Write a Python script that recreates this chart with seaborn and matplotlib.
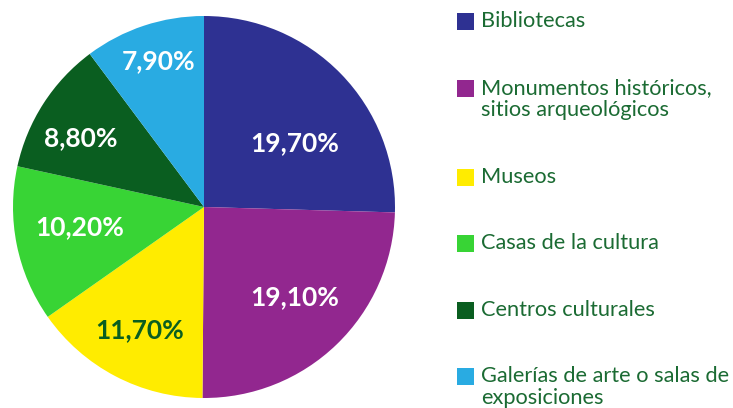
import numpy as np
import matplotlib
matplotlib.use("Agg")
import matplotlib.pyplot as plt
import seaborn as sns
from matplotlib.patches import Rectangle

categories = ["Bibliotecas", "Monumentos históricos,\nsitios arqueológicos", "Museos",
              "Casas de la cultura", "Centros culturales", "Galerías de arte o salas de\nexposiciones"]
values = [19.7, 19.1, 11.7, 10.2, 8.8, 7.9]
value_labels = ["19,70%", "19,10%", "11,70%", "10,20%", "8,80%", "7,90%"]

colors = ["#2E3192", "#92278F", "#FFEC00", "#38D435", "#0A5E20", "#29ABE2"]
label_colors = ["white", "white", "#0A5E20", "white", "white", "white"]
label_dist = [0.58, 0.67, 0.73, 0.66, 0.74, 0.80]
label_ang_shift = [-9, 1, 0, -2, 3.5, -1]
legend_text_color = "#1B6B33"

sns.set_theme(style="white")
plt.rcParams['font.family'] = ['Lato', 'DejaVu Sans']

W, H = 733, 408
fig = plt.figure(figsize=(W / 100, H / 100), dpi=100)
cx, cy, r = 204, 207, 191
ax = fig.add_axes([(cx - r) / W, (H - cy - r) / H, 2 * r / W, 2 * r / H])

wedges, _ = ax.pie(values, colors=colors, startangle=90, counterclock=False,
                   radius=1, wedgeprops=dict(linewidth=0))
for w, lab, c, d, s in zip(wedges, value_labels, label_colors, label_dist, label_ang_shift):
    ang = np.deg2rad((w.theta1 + w.theta2) / 2 + s)
    ax.text(d * np.cos(ang), d * np.sin(ang), lab, ha="center", va="center",
            color=c, fontsize=19, fontweight="bold")
ax.set_xlim(-1, 1)
ax.set_ylim(-1, 1)
ax.set_aspect("equal")
ax.axis("off")

# legend (manual, pixel layout)
row_y = [21, 88, 177, 243, 310, 376]
line_gap = 22
sq = 17
for cat, col, y in zip(categories, colors, row_y):
    fig.add_artist(Rectangle((457 / W, (H - y - sq / 2) / H), sq / W, sq / H,
                             transform=fig.transFigure, color=col, lw=0))
    for i, line in enumerate(cat.split("\n")):
        fig.text(481 / W, (H - y - i * line_gap) / H, line, ha="left", va="center",
                 fontsize=15.7, color=legend_text_color)

fig.savefig("out.png", dpi=100)
